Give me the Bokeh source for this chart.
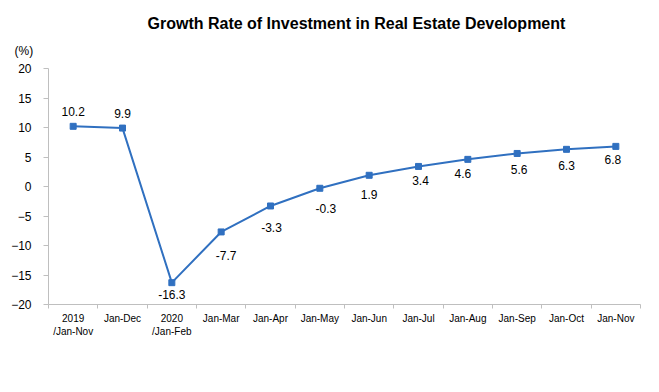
from bokeh.plotting import figure
from bokeh.models import Range1d, FixedTicker, Title, ColumnDataSource
from bokeh.embed import file_html
from bokeh.resources import INLINE
from bokeh.core.properties import value

categories = ["2019\n/Jan-Nov", "Jan-Dec", "2020\n/Jan-Feb", "Jan-Mar", "Jan-Apr", "Jan-May",
              "Jan-Jun", "Jan-Jul", "Jan-Aug", "Jan-Sep", "Jan-Oct", "Jan-Nov"]
growth = [10.2, 9.9, -16.3, -7.7, -3.3, -0.3, 1.9, 3.4, 4.6, 5.6, 6.3, 6.8]
y_ticks = [-20, -15, -10, -5, 0, 5, 10, 15, 20]

# label placement (screen pixels, style only)
label_dx = [0, 0, 0, 5, 1, 6, 0, 2, -5, 2, 0, -3]
label_dy = [-15, -15, 12, 24, 22, 20, 19, 14, 14, 16, 16, 13]

FONT = "Liberation Sans"
BLUE = "#3070C0"
GRAY = "#BFBFBF"

xs = list(range(len(categories)))
src = ColumnDataSource(dict(x=xs, y=growth, txt=[f"{v:.1f}" for v in growth],
                            dx=label_dx, dy=label_dy))

p = figure(width=651, height=384, output_backend="svg", toolbar_location=None,
           x_range=Range1d(-0.5, len(categories) - 0.5), y_range=Range1d(-20, 20),
           min_border_left=48, min_border_right=11, min_border_top=68, min_border_bottom=80)
p.outline_line_color = None
p.xgrid.visible = False
p.ygrid.visible = False
p.background_fill_color = "white"
p.border_fill_color = "white"

# main title
p.title.text = "Growth Rate of Investment in Real Estate Development"
p.title.align = "left"
p.title.offset = 99
p.title.text_font = FONT
p.title.text_font_size = "16px"
p.title.text_font_style = "bold"
p.title.text_color = "black"
p.title.standoff = 0

# "(%)" unit label just above the frame
p.add_layout(Title(text="(%)", align="left", offset=-34, text_font=FONT,
                   text_font_size="12px", text_font_style="normal",
                   text_color="black", standoff=21), "above")

# x axis: labels at category centres, tick marks between categories
p.xaxis.ticker = FixedTicker(ticks=xs, minor_ticks=[i - 0.5 for i in range(len(categories) + 1)])
p.xaxis.major_label_overrides = {i: c for i, c in enumerate(categories)}
p.xaxis.major_tick_line_color = None
p.xaxis.minor_tick_line_color = GRAY
p.xaxis.minor_tick_out = 4
p.xaxis.minor_tick_in = 0
p.xaxis.axis_line_color = GRAY
p.xaxis.major_label_text_font = FONT
p.xaxis.major_label_text_font_size = "10px"
p.xaxis.major_label_text_color = "black"
p.xaxis.major_label_text_line_height = 1.25
p.xaxis.major_label_standoff = 2

p.yaxis.ticker = FixedTicker(ticks=y_ticks)
p.yaxis.minor_tick_line_color = None
p.yaxis.major_tick_line_color = GRAY
p.yaxis.major_tick_out = 5
p.yaxis.major_tick_in = 0
p.yaxis.axis_line_color = GRAY
p.yaxis.major_label_text_font = FONT
p.yaxis.major_label_text_font_size = "12px"
p.yaxis.major_label_text_color = "black"
p.yaxis.major_label_standoff = 12

p.line("x", "y", source=src, line_color=BLUE, line_width=2)
p.scatter("x", "y", source=src, marker="square", size=6, fill_color=BLUE, line_color=BLUE)
p.text("x", "y", text="txt", source=src, x_offset="dx", y_offset="dy",
       text_font=value(FONT), text_font_size="12px", text_color="black",
       text_align="center", text_baseline="middle")

open("out.html", "w").write(file_html(p, INLINE))
